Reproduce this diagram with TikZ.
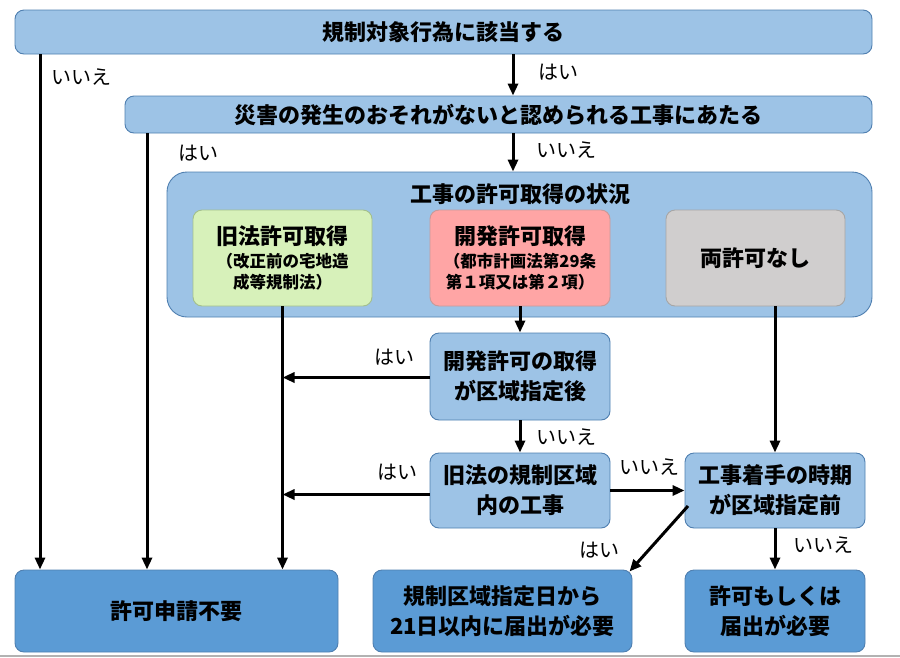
\documentclass[tikz,border=0pt]{standalone}
\usepackage{fontspec}
\setmainfont{Noto Sans CJK JP}
\usetikzlibrary{arrows.meta}
\definecolor{lb}{HTML}{9DC3E6}
\definecolor{bd}{HTML}{4F7FB0}
\definecolor{db}{HTML}{5B9BD5}
\definecolor{gf}{HTML}{D7F1BA}
\definecolor{gb}{HTML}{A3BF8C}
\definecolor{pf}{HTML}{FFA5A5}
\definecolor{pb}{HTML}{C79A9A}
\definecolor{nf}{HTML}{D0CECE}
\definecolor{nb}{HTML}{A6A6A6}
\newcommand{\smallfs}{\fontsize{16.5}{21}\selectfont}
\begin{document}
\begin{tikzpicture}[x=1pt,y=-1pt,
  box/.style={draw=bd, line width=0.9pt, rounded corners=9pt, fill=lb, align=center, inner sep=0pt,
    font=\bfseries\fontsize{22}{30}\selectfont},
  darkbox/.style={box, fill=db},
  arr/.style={line width=3pt, -{Triangle[length=12pt,width=10pt]}},
  lbl/.style={font=\fontsize{20}{22}\selectfont, inner sep=0pt}]
\useasboundingbox (0,0) rectangle (900,657);

% main nodes
\node[box, minimum width=857pt, minimum height=44pt] (top) at (443.5,32) {規制対象行為に該当する};
\node[box, minimum width=747pt, minimum height=37pt] (q2) at (498.5,114.5) {災害の発生のおそれがないと認められる工事にあたる};
\node[box, rounded corners=20pt, minimum width=705pt, minimum height=145pt] (cont) at (519.5,244.5) {};
\node[font=\bfseries\fontsize{22}{24}\selectfont, inner sep=0pt] (ctitle) at (520,194) {工事の許可取得の状況};

\node[box, draw=gb, fill=gf, minimum width=179pt, minimum height=96pt] (green) at (282.5,258)
  {旧法許可取得\\[-7pt]\smallfs （改正前の宅地造\\[-9pt]\smallfs 成等規制法）};
\node[box, draw=pb, fill=pf, minimum width=180pt, minimum height=96pt] (pink) at (520,258)
  {開発許可取得\\[-7pt]\smallfs （都市計画法第29条\\[-9pt]\smallfs 第１項又は第２項）};
\node[box, draw=nb, fill=nf, minimum width=179pt, minimum height=96pt] (grey) at (755.5,258) {両許可なし};

\node[box, minimum width=180pt, minimum height=87pt] (q3) at (520,376.5) {開発許可の取得\\が区域指定後};
\node[box, minimum width=180pt, minimum height=75pt] (q4) at (520,490.5) {旧法の規制区域\\内の工事};
\node[box, minimum width=180pt, minimum height=75pt] (k) at (775,490.5) {工事着手の時期\\が区域指定前};

\node[darkbox, minimum width=323pt, minimum height=82pt] (r1) at (176.5,611) {許可申請不要};
\node[darkbox, minimum width=259pt, minimum height=82pt] (r2) at (502.5,611) {規制区域指定日から\\21日以内に届出が必要};
\node[darkbox, minimum width=180pt, minimum height=82pt] (r3) at (775,611) {許可もしくは\\届出が必要};

% helper coordinates
\coordinate (x40) at (40,0);
\coordinate (x147) at (147,0);
\coordinate (x513) at (513,0);
\coordinate (kd) at (688,506);

% connectors
\draw[arr] (top.south -| x40) -- (r1.north -| x40);
\draw[arr] (top.south -| x513) -- (q2.north -| x513);
\draw[arr] (q2.south -| x147) -- (r1.north -| x147);
\draw[arr] (q2.south -| x513) -- (cont.north -| x513);
\draw[arr] (green.south) -- (r1.north -| green.south);
\draw[arr] (pink.south) -- (q3.north);
\draw[arr] (grey.south -| k.north) -- (k.north);
\draw[arr] ([yshift=-1pt]q3.west) -- ([yshift=-1pt]q3.west -| green.south);
\draw[arr] (q3.south) -- (q4.north);
\draw[arr] ([yshift=-4pt]q4.west) -- ([yshift=-4pt]q4.west -| green.south);
\draw[arr] (q4.east) -- (k.west);
\draw[arr] (k.south) -- (r3.north);
\draw[arr] (kd) -- ([xshift=-3pt,yshift=-2pt]r2.north east);

% labels
\node[lbl] (l1) at (81,77) {いいえ};
\node[lbl] (l2) at (558,72) {はい};
\node[lbl] (l3) at (198,153) {はい};
\node[lbl] (l4) at (566,150) {いいえ};
\node[lbl] (l5) at (394,357) {はい};
\node[lbl] (l6) at (566,437) {いいえ};
\node[lbl] (l7) at (397,472) {はい};
\node[lbl] (l8) at (649,467) {いいえ};
\node[lbl] (l9) at (599,550) {はい};
\node[lbl] (l10) at (823,545) {いいえ};

\draw[gray!60, line width=1.5pt] (0,656) -- (900,656);
\end{tikzpicture}
\end{document}
